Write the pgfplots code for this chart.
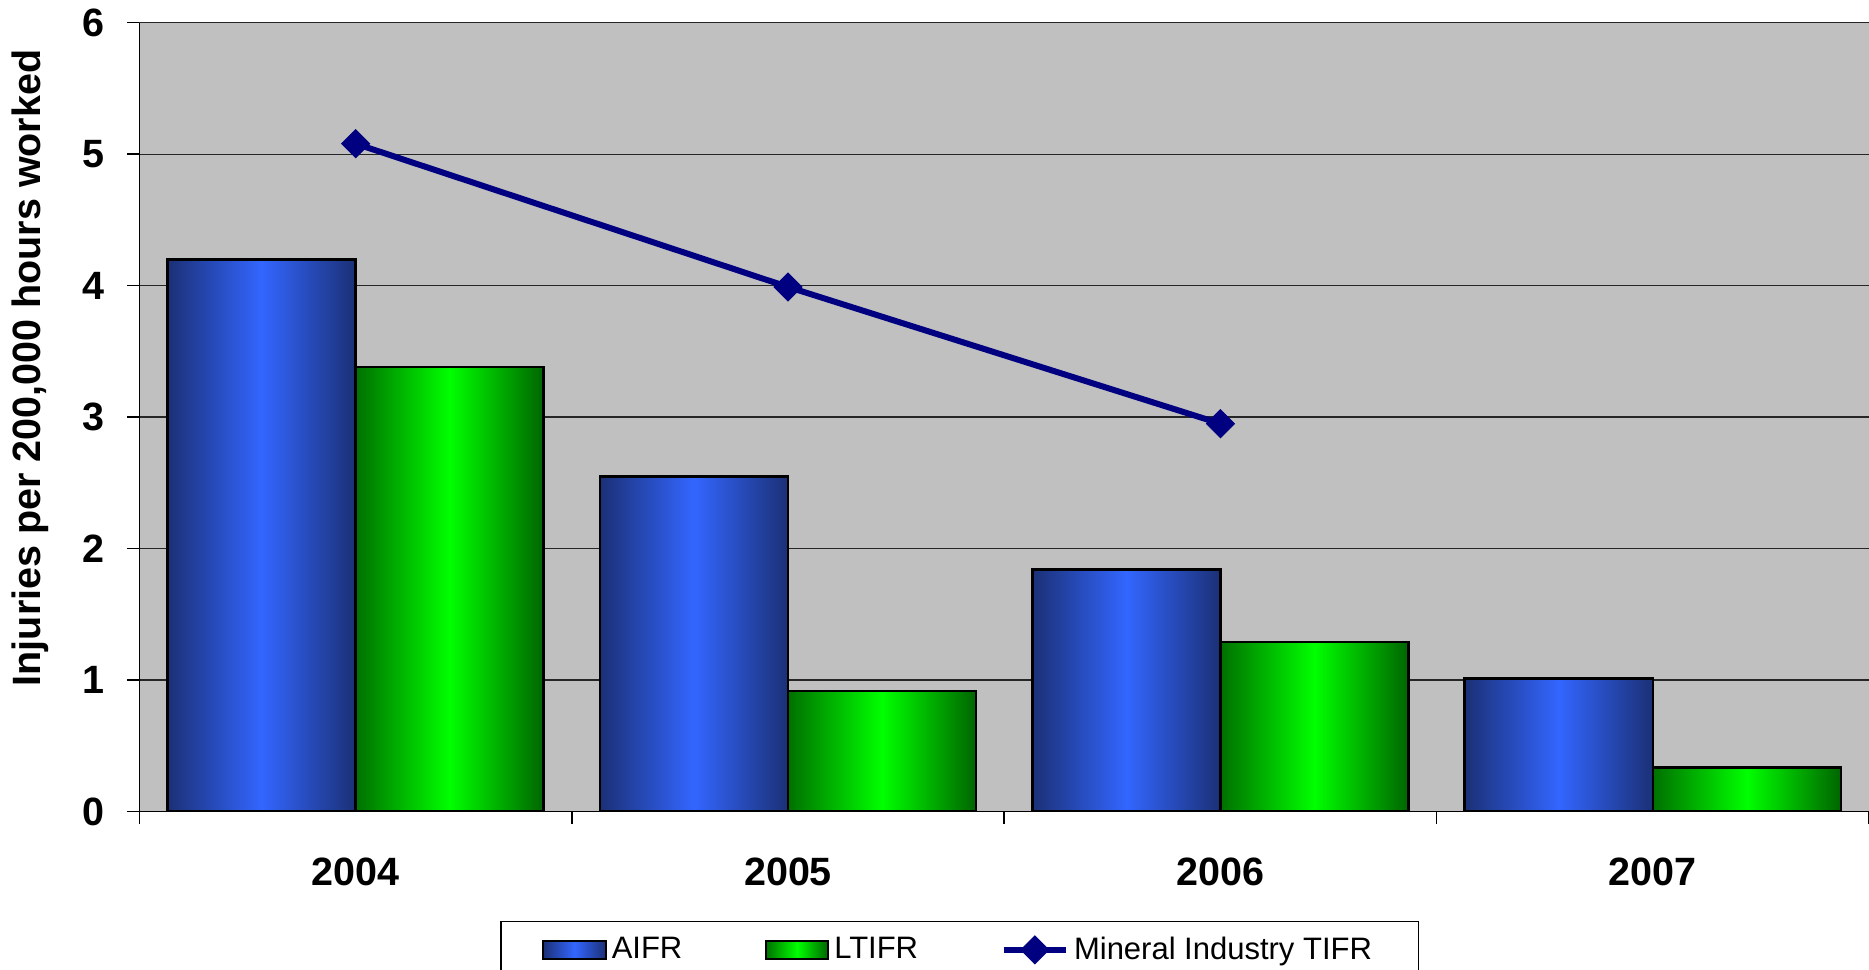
\documentclass[border=0pt]{standalone}
\usepackage{pgfplots}
\pgfplotsset{compat=1.18}
\usepackage{fontspec}
\setmainfont{Liberation Sans}
\definecolor{bggray}{RGB}{192,192,192}
\definecolor{bdark}{RGB}{27,48,118}
\definecolor{bbright}{RGB}{51,102,255}
\definecolor{gdark}{RGB}{0,112,0}
\definecolor{gbright}{RGB}{0,255,0}
\definecolor{navyline}{RGB}{0,0,128}
\pgfplotsset{
  barimg/.style={legend image code/.code={\draw[##1, line width=0.8pt] (0pt,-3.5pt) rectangle (25pt,3.5pt);}},
  lineimg/.style={legend image code/.code={\draw[##1, mark repeat=2, mark phase=2] plot coordinates {(0pt,0pt) (12.5pt,0pt) (25pt,0pt)};}},
  aifr/.style={ybar, bar width=0.435, bar shift=-0.2175, draw=black, line width=1pt,
   left color=bdark, right color=bdark, middle color=bbright, barimg},
  ltifr/.style={ybar, bar width=0.435, bar shift=0.2175, draw=black, line width=1pt,
   left color=gdark, right color=black!10!gdark, middle color=gbright, barimg},
}
\begin{document}
\begin{tikzpicture}
\begin{axis}[
  name=ax,
  scale only axis,
  width=692pt, height=315.6pt,
  xmin=-0.5, xmax=3.5,
  ymin=0, ymax=6,
  axis lines=left,
  axis line style={-, black, line width=0.6pt},
  axis background/.style={fill=bggray},
  ytick={0,1,2,3,4,5,6},
  xtick={-0.5,0.5,1.5,2.5,3.5},
  xticklabels={},
  extra x ticks={0,1,2,3},
  extra x tick labels={2004,2005,2006,2007},
  extra x tick style={major tick length=0pt, tick style={draw=none},
     tick label style={yshift=-15.2pt}},
  tick align=outside,
  major tick length=4.8pt,
  tick style={black, line width=0.6pt},
  ymajorgrids,
  major grid style={black!85, line width=0.5pt},
  /pgf/number format/assume math mode=true,
  tick label style={font=\fontsize{15.8}{18}\selectfont\bfseries},
  yticklabel style={xshift=-5.5pt},
  ylabel={Injuries per 200,000 hours worked},
  ylabel style={font=\fontsize{15.8}{18}\selectfont\bfseries, at={(axis description cs:-0.063,0.5624)}, anchor=center},
  legend columns=3,
  legend style={at={(0.2087,-0.139)}, anchor=north west, draw=black, line width=0.5pt, fill=white,
     font=\fontsize{12.4}{14}\selectfont, inner xsep=16.5pt, inner ysep=4pt,
     /tikz/every even column/.append style={column sep=31pt}},
]
\addplot[aifr] coordinates {(0,4.20)};
\addlegendentry{AIFR}
\addplot[ltifr] coordinates {(0,3.38)};
\addlegendentry{LTIFR}
\addplot[navyline, line width=2.4pt, mark=square*, mark size=3.9pt,
   mark options={rotate=45, fill=navyline, draw=navyline, line width=0.5pt}, lineimg]
  coordinates {(0,5.08) (1,3.99) (2,2.95)};
\addlegendentry{Mineral Industry TIFR}
\addplot[aifr, forget plot] coordinates {(1,2.55)};
\addplot[aifr, forget plot] coordinates {(2,1.84)};
\addplot[aifr, forget plot] coordinates {(3,1.01)};
\addplot[ltifr, forget plot] coordinates {(1,0.915)};
\addplot[ltifr, forget plot] coordinates {(2,1.29)};
\addplot[ltifr, forget plot] coordinates {(3,0.335)};
\end{axis}
\pgfresetboundingbox
\path[use as bounding box] ([xshift=-55.8pt,yshift=-63.3pt]ax.south west) rectangle ([yshift=9.1pt]ax.north east);
\end{tikzpicture}
\end{document}
